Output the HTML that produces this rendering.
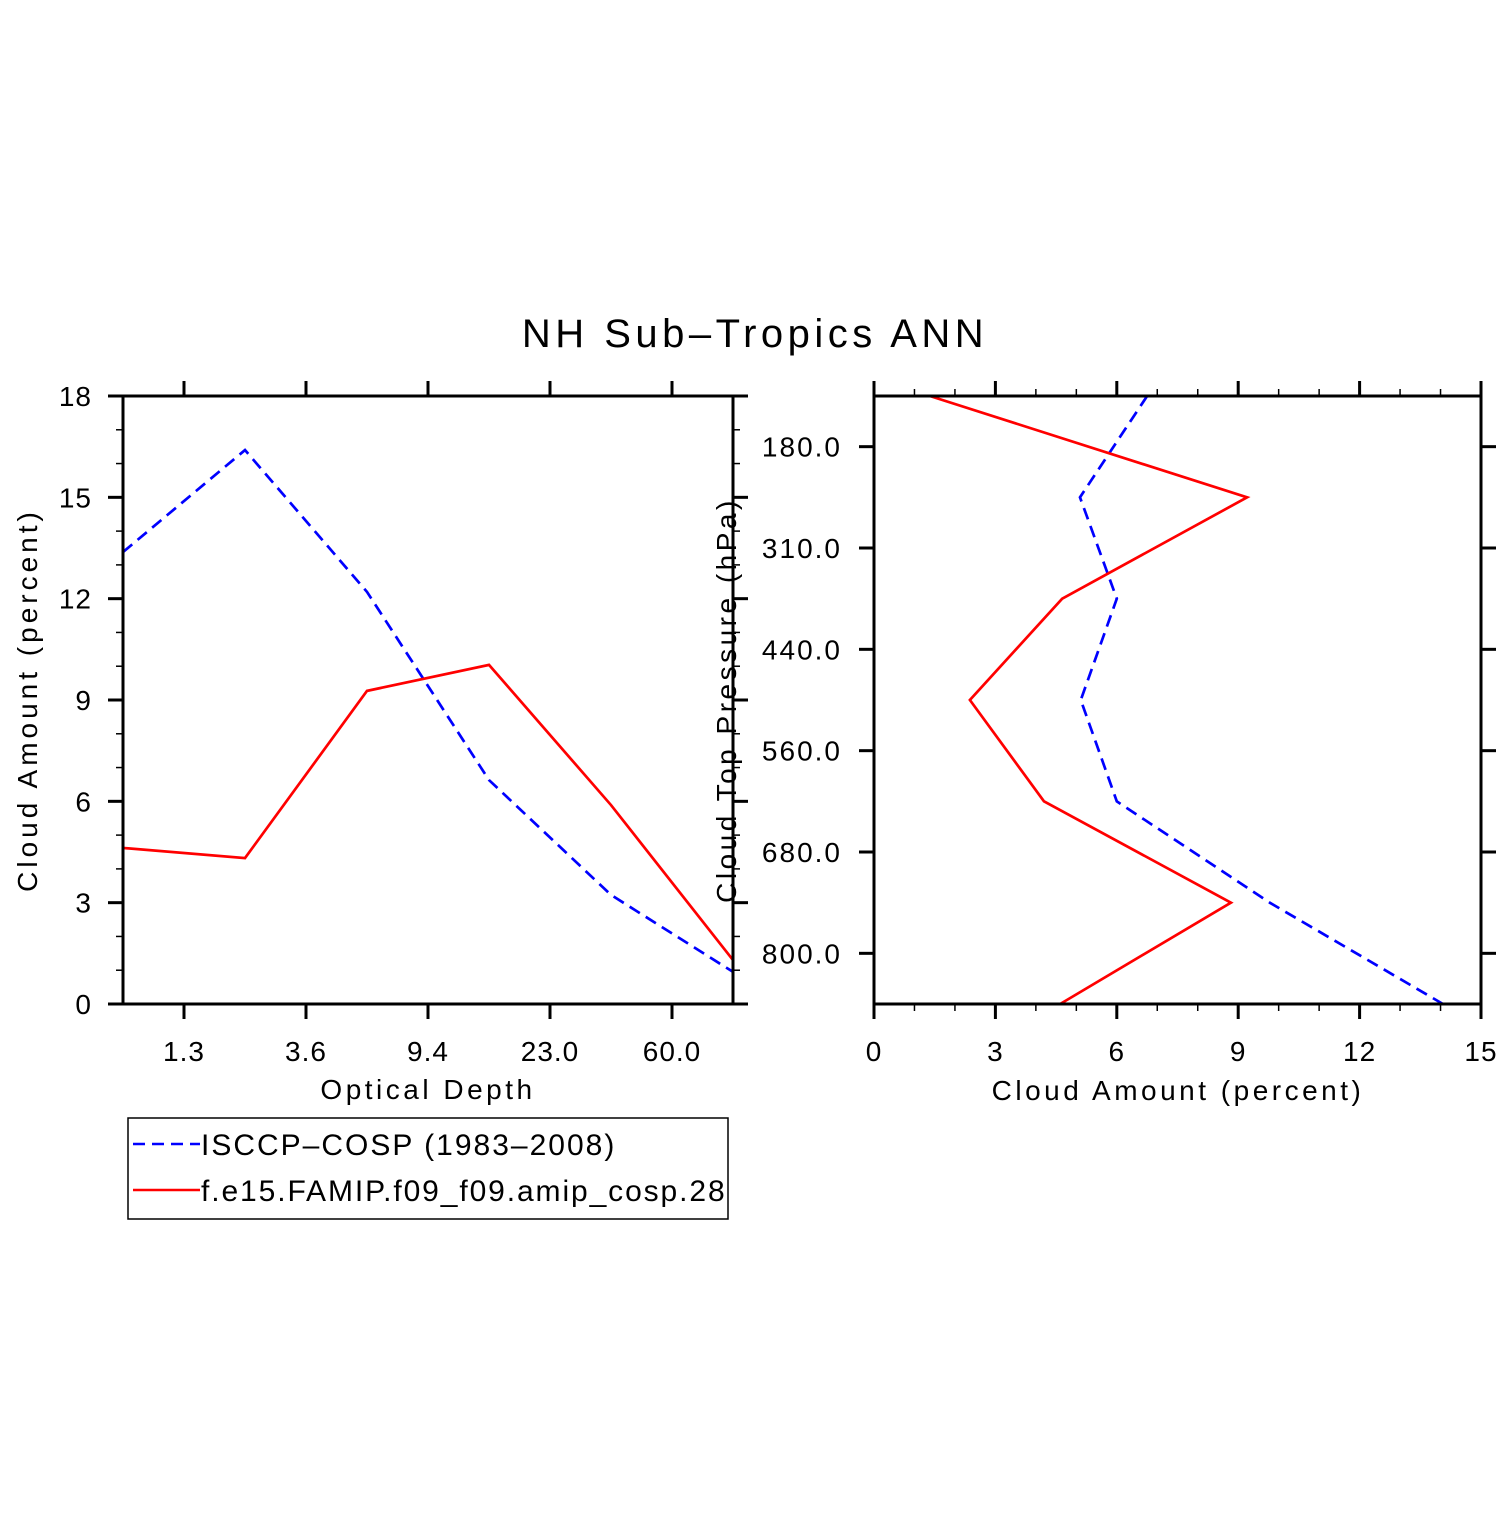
<!DOCTYPE html>
<html><head><meta charset="utf-8"><style>
body{margin:0;background:#fff}
svg text{font-family:"Liberation Sans",sans-serif;fill:#000}
</style></head><body>
<svg id="chart" width="1510" height="1510" viewBox="0 0 1510 1510" xmlns="http://www.w3.org/2000/svg">
<text x="755" y="347" font-size="40" text-anchor="middle" letter-spacing="4.5">NH Sub–Tropics ANN</text>
<g id="left"></g>
<g id="right"></g>
<g>
<rect x="128" y="1118" width="600" height="101" fill="none" stroke="#000" stroke-width="1.5"/>
<line x1="133" y1="1144" x2="200" y2="1144" stroke="#0000ff" stroke-width="2.5" stroke-dasharray="12,7"/>
<text x="201" y="1155" font-size="30" letter-spacing="2">ISCCP–COSP (1983–2008)</text>
<line x1="133" y1="1190" x2="200" y2="1190" stroke="#ff0000" stroke-width="2.5"/>
<text x="201" y="1201" font-size="30" letter-spacing="1.9">f.e15.FAMIP.f09_f09.amip_cosp.28</text>
</g>
</svg>
<script>
const tauLabels=["1.3","3.6","9.4","23.0","60.0"];
const tauObs=[13.38,16.4,12.2,6.63,3.23,0.95];
const tauModel=[4.62,4.32,9.27,10.04,5.89,1.3];
const presLabels=["180.0","310.0","440.0","560.0","680.0","800.0"];
const presObs=[6.75,5.09,6.0,5.11,6.0,9.78,14.06];
const presModel=[1.38,9.22,4.65,2.37,4.2,8.82,4.6];
const NS="http://www.w3.org/2000/svg";
function mk(p,t,a){const e=document.createElementNS(NS,t);for(const k in a)e.setAttribute(k,a[k]);p.appendChild(e);return e;}
function ln(p,x1,y1,x2,y2,w,name){const e=mk(p,'line',{x1,y1,x2,y2,stroke:'#000','stroke-width':w});

return e;}
function tx(p,x,y,s,anchor,name,extra){const e=mk(p,'text',Object.assign({x,y,'font-size':28,'text-anchor':anchor,'letter-spacing':1},extra||{}));e.textContent=s;

return e;}
function poly(p,pts,color,dash,name){const e=mk(p,'polyline',{points:pts.map(q=>q.join(',')).join(' '),fill:'none',stroke:color,'stroke-width':2.7});if(dash)e.setAttribute('stroke-dasharray',dash);

}
// Left
const L=document.getElementById('left');
const lx0=123,lx1=733,ly0=396,ly1=1004;
const lX=i=>lx0+(lx1-lx0)*i/(tauObs.length-1);
const lY=v=>ly1-(ly1-ly0)*v/18;
poly(L,tauObs.map((v,i)=>[lX(i),lY(v)]),'#0000ff','12,7','series-isccp-tau');
poly(L,tauModel.map((v,i)=>[lX(i),lY(v)]),'#ff0000',null,'series-model-tau');
mk(L,'rect',{x:lx0,y:ly0,width:lx1-lx0,height:ly1-ly0,fill:'none',stroke:'#000','stroke-width':3});
for(let v=0;v<=18;v++){const y=lY(v),maj=v%3==0,len=maj?15:7;
ln(L,lx0-len,y,lx0,y,maj?3:1.5,'y-tick-left');ln(L,lx1,y,lx1+len,y,maj?3:1.5,'y-tick-right');
if(maj)tx(L,92,y+10,String(v),'end','y-tick-label');}
tauLabels.forEach((s,i)=>{const x=lX(i+0.5);ln(L,x,ly1,x,ly1+15,3,'x-tick-bottom');ln(L,x,ly0-15,x,ly0,3,'x-tick-top');tx(L,x,1061,s,'middle','x-tick-label');});
tx(L,428,1099,'Optical Depth','middle','x-axis-title',{'letter-spacing':3.5});
tx(L,37,700,'Cloud Amount (percent)','middle','y-axis-title',{transform:'rotate(-90 37 700)','letter-spacing':4});
// Right
const R=document.getElementById('right');
const rx0=874,rx1=1481,ry0=396,ry1=1004;
const rX=v=>rx0+(rx1-rx0)*v/15;
const rY=i=>ry0+(ry1-ry0)*i/(presObs.length-1);
poly(R,presObs.map((v,i)=>[rX(v),rY(i)]),'#0000ff','12,7','series-isccp-pres');
poly(R,presModel.map((v,i)=>[rX(v),rY(i)]),'#ff0000',null,'series-model-pres');
mk(R,'rect',{x:rx0,y:ry0,width:rx1-rx0,height:ry1-ry0,fill:'none',stroke:'#000','stroke-width':3});
for(let v=0;v<=15;v++){const x=rX(v),maj=v%3==0,len=maj?15:7;
ln(R,x,ry1,x,ry1+len,maj?3:1.5,'x-tick-bottom');ln(R,x,ry0-len,x,ry0,maj?3:1.5,'x-tick-top');
if(maj)tx(R,x,1061,String(v),'middle','x-tick-label');}
presLabels.forEach((s,i)=>{const y=rY(i+0.5);ln(R,rx0-15,y,rx0,y,3,'y-tick-left');ln(R,rx1,y,rx1+15,y,3,'y-tick-right');tx(R,842,y+10,s,'end','y-tick-label',{'letter-spacing':2});});
tx(R,1178,1100,'Cloud Amount (percent)','middle','x-axis-title',{'letter-spacing':3.5});
tx(R,736,700,'Cloud Top Pressure (hPa)','middle','y-axis-title',{transform:'rotate(-90 736 700)','letter-spacing':3.5});
</script>
</body></html>
